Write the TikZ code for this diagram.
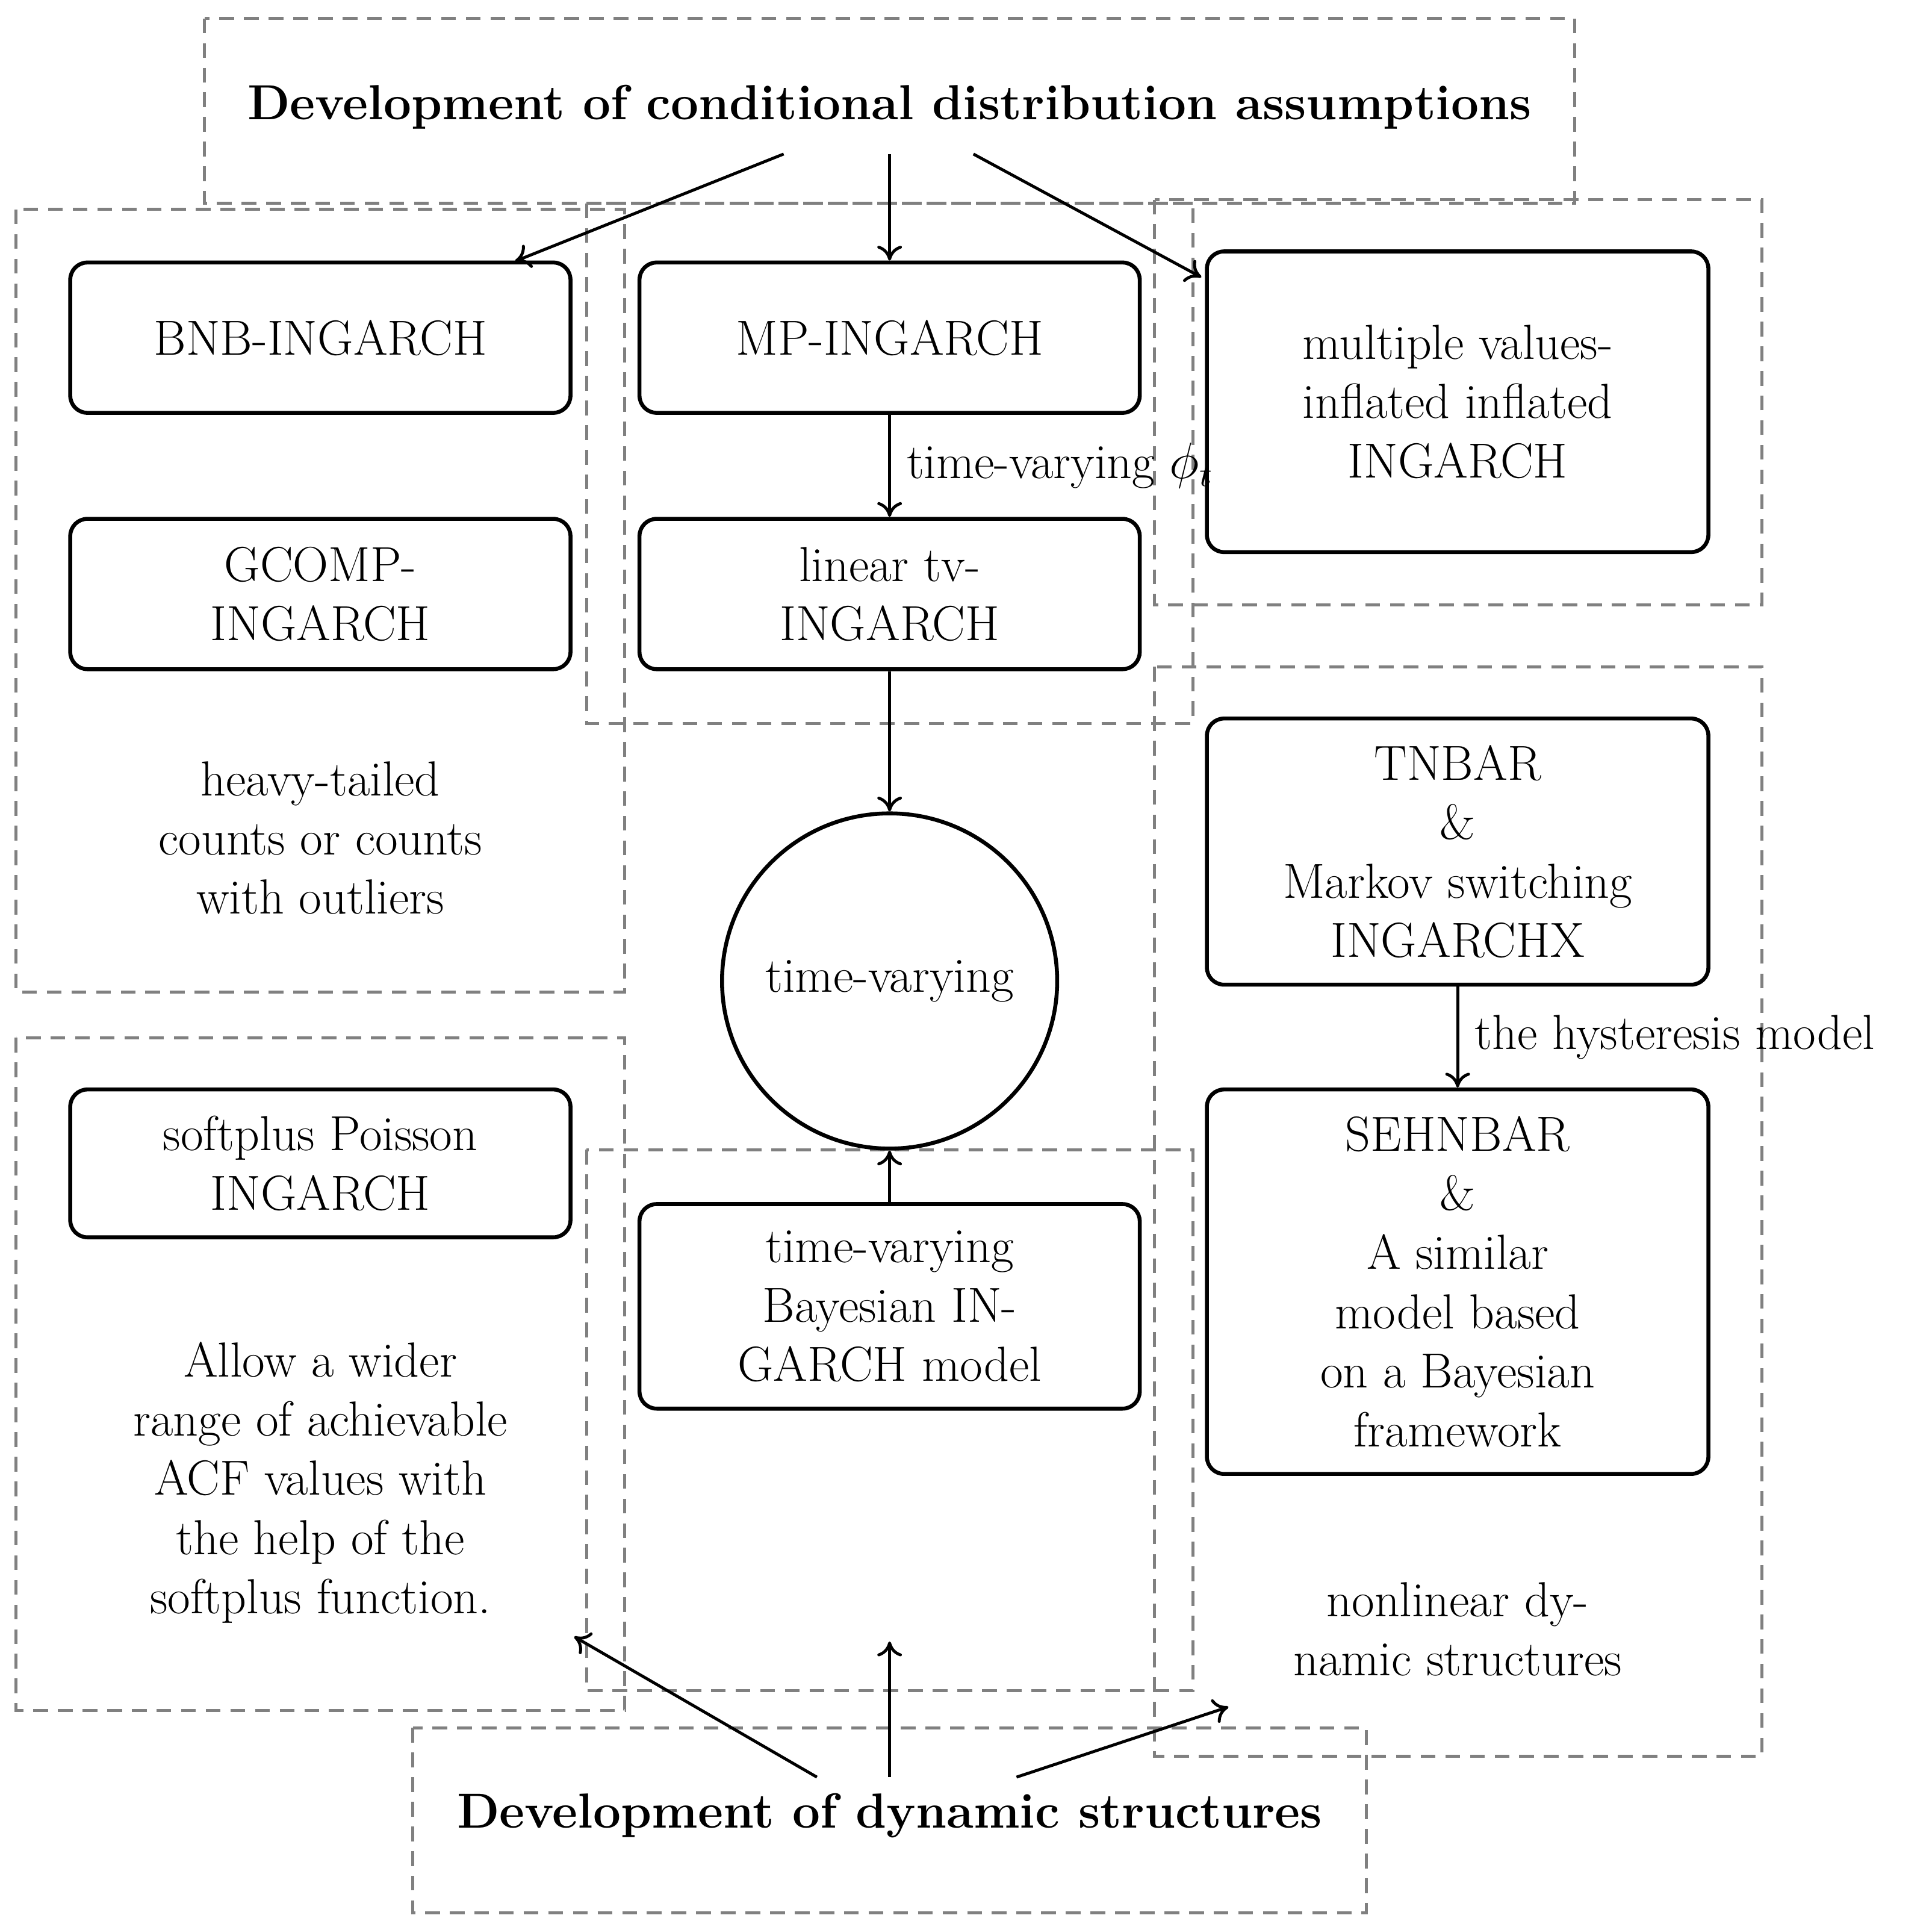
\documentclass[tikz,border=0pt]{standalone}
\usetikzlibrary{arrows.meta}
\begin{document}
\begin{tikzpicture}[x=0.5pt,y=-0.5pt,
  dbox/.style={draw=gray,dashed,line width=1.2pt,dash pattern=on 6pt off 4pt},
  mnode/.style={draw,rounded corners=7pt,line width=1.6pt,align=center,font=\fontsize{20}{24}\selectfont},
  txt/.style={align=center,font=\fontsize{20}{24}\selectfont},
  arr/.style={-{To[length=6pt,width=10pt]},line width=1.2pt}]
\useasboundingbox (0,0) rectangle (1568,1566);
\draw[dbox] (166,15) rectangle (1278,165);
\draw[dbox] (13,170) rectangle (507,805);
\draw[dbox] (476,165) rectangle (968,587);
\draw[dbox] (937,162) rectangle (1430,491);
\draw[dbox] (937,541) rectangle (1430,1425);
\draw[dbox] (13,842) rectangle (507,1388);
\draw[dbox] (476,933) rectangle (968,1372);
\draw[dbox] (335,1402) rectangle (1109,1552);
\node[txt,font=\fontsize{20}{24}\selectfont\bfseries] (top) at (722,87) {Development of conditional distribution assumptions};
\node[txt,font=\fontsize{20}{24}\selectfont\bfseries] (bot) at (722,1473) {Development of dynamic structures};
\node[mnode,minimum width=203pt,minimum height=61pt] (bnb) at (260,274) {BNB-INGARCH};
\node[mnode,minimum width=203pt,minimum height=61pt] (gcomp) at (260,482) {GCOMP-\\INGARCH};
\node[mnode,minimum width=203pt,minimum height=61pt] (mp) at (722,274) {MP-INGARCH};
\node[mnode,minimum width=203pt,minimum height=61pt] (lin) at (722,482) {linear tv-\\INGARCH};
\node[mnode,minimum width=203.5pt,minimum height=122pt] (mult) at (1183,326) {multiple values-\\inflated inflated\\INGARCH};
\node[draw,circle,line width=1.6pt,minimum size=136pt,txt] (circ) at (722,796) {time-varying};
\node[mnode,minimum width=203.5pt,minimum height=108pt] (tnbar) at (1183,691) {TNBAR\\\&\\Markov switching\\INGARCHX};
\node[mnode,minimum width=203.5pt,minimum height=156pt] (seh) at (1183,1040) {SEHNBAR\\\&\\A similar\\model based\\on a Bayesian\\framework};
\node[mnode,minimum width=203pt,minimum height=60pt] (soft) at (260,944) {softplus Poisson\\INGARCH};
\node[mnode,minimum width=203pt,minimum height=83pt] (bay) at (722,1060) {time-varying\\Bayesian IN-\\GARCH model};
\node[txt] (heavy) at (260,680) {heavy-tailed\\counts or counts\\with outliers};
\node[txt] (allow) at (260,1203) {Allow a wider\\range of achievable\\ACF values with\\the help of the\\softplus function.};
\node[txt] (nonlin) at (1183,1322) {nonlinear dy-\\namic structures};
\coordinate (t1) at (636,125); \coordinate (t2) at (722,125); \coordinate (t3) at (790,125);
\coordinate (e1) at (418,212); \coordinate (e3) at (975,225);
\draw[arr] (t1) -- (e1);
\draw[arr] (t2) -- (mp.north);
\draw[arr] (t3) -- (e3);
\draw[arr] (mp) -- node[right,txt,xshift=3pt]{time-varying $\phi_t$} (lin);
\draw[arr] (lin) -- (circ);
\draw[arr] (bay) -- (circ);
\draw[arr] (tnbar) -- node[right,txt,xshift=3pt]{the hysteresis model} (seh);
\coordinate (b1) at (663,1442); \coordinate (b2) at (722,1442); \coordinate (b3) at (825,1442);
\coordinate (f1) at (466,1328); \coordinate (f2) at (722,1332); \coordinate (f3) at (997,1385);
\draw[arr] (b1) -- (f1);
\draw[arr] (b2) -- (f2);
\draw[arr] (b3) -- (f3);
\end{tikzpicture}
\end{document}
